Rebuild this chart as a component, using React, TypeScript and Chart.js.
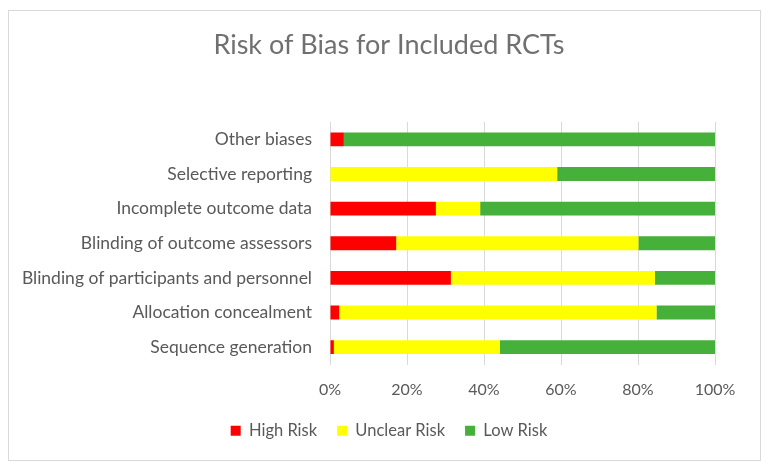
import React, { useEffect, useRef } from "react";
import { Chart, registerables } from "chart.js";

Chart.register(...registerables);

const categories = [
  "Sequence generation",
  "Allocation concealment",
  "Blinding of participants and personnel",
  "Blinding of outcome assessors",
  "Incomplete outcome data",
  "Selective reporting",
  "Other biases",
];
const highRisk = [1.0, 2.4, 31.4, 17.2, 27.5, 0, 3.6];
const unclearRisk = [43.1, 82.4, 53.0, 62.9, 11.5, 59.0, 0];
const lowRisk = [55.9, 15.2, 15.6, 19.9, 61.0, 41.0, 96.4];
const xTicks = ["0%", "20%", "40%", "60%", "80%", "100%"];

const FONT = "Lato, 'Liberation Sans', sans-serif";
const TEXT = "#595959";

export default function App() {
  const ref = useRef<HTMLCanvasElement | null>(null);
  useEffect(() => {
    if (!ref.current) return;
    const chart = new Chart(ref.current, {
      type: "bar",
      data: {
        labels: categories,
        datasets: [
          { label: "High Risk", data: highRisk, backgroundColor: "#FF0000" },
          { label: "Unclear Risk", data: unclearRisk, backgroundColor: "#FFFF00" },
          { label: "Low Risk", data: lowRisk, backgroundColor: "#45B03A" },
        ],
      },
      options: {
        indexAxis: "y",
        animation: false,
        responsive: false,
        maintainAspectRatio: false,
        datasets: { bar: { barPercentage: 0.4, categoryPercentage: 1 } },
        layout: { padding: { left: 9, right: 0, top: 0, bottom: 11 } },
        plugins: {
          title: {
            display: true,
            text: "Risk of Bias for Included RCTs",
            color: "#707070",
            font: { family: FONT, size: 27, weight: "normal" },
            padding: { top: 18, bottom: 60.6 },
          },
          legend: {
            position: "bottom",
            labels: {
              boxWidth: 10,
              boxHeight: 10,
              color: TEXT,
              font: { family: FONT, size: 16.5 },
              padding: 20,
            },
          },
          tooltip: { enabled: false },
        },
        scales: {
          x: {
            stacked: true,
            min: 0,
            max: 100,
            grid: { color: "#d9d9d9", drawTicks: false },
            border: { display: false },
            ticks: {
              stepSize: 20,
              padding: 16,
              color: TEXT,
              font: { family: FONT, size: 16 },
              callback: (_v: any, i: number) => xTicks[i],
            },
            afterFit: (s: any) => {
              s.height = 38;
            },
          },
          y: {
            stacked: true,
            reverse: true,
            grid: { display: false, drawTicks: false },
            border: { display: false },
            ticks: {
              padding: 18,
              color: TEXT,
              font: { family: FONT, size: 17.5 },
            },
            afterFit: (s: any) => {
              s.width = 312;
            },
          },
          yRightSpace: {
            type: "linear",
            position: "right",
            display: true,
            grid: { display: false, drawTicks: false },
            border: { display: false },
            ticks: { display: false },
            afterFit: (s: any) => {
              s.width = 45;
            },
          },
        },
      },
    });
    return () => chart.destroy();
  }, []);
  return (
    <div
      style={{
        width: 753,
        height: 451,
        marginTop: 2,
        border: "1px solid #d9d9d9",
        boxSizing: "border-box",
      }}
    >
      <canvas ref={ref} width={751} height={449} style={{ display: "block" }} />
    </div>
  );
}
